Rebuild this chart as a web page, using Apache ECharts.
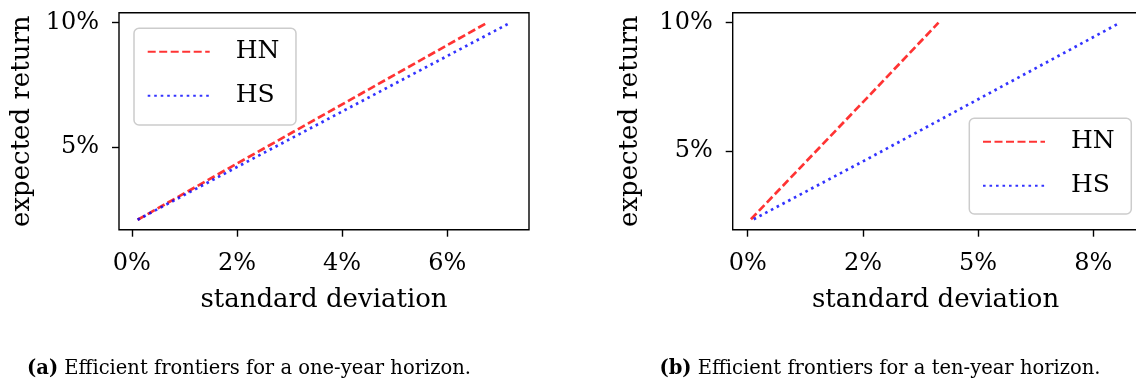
<!DOCTYPE html>
<html>
<head>
<meta charset="utf-8">
<title>Efficient frontiers</title>
<script src="https://cdn.jsdelivr.net/npm/echarts@6/dist/echarts.min.js"></script>
<style>
  html, body { margin: 0; padding: 0; background: #ffffff; }
  #chart { width: 1136px; height: 383px; }
</style>
</head>
<body>
<div id="chart"></div>
<script>
// Efficient frontiers: [standard deviation %, expected return %]
const hnOneYear = [[0.11, 2.07], [2.0, 4.33], [6.76, 10.0]];
const hsOneYear = [[0.11, 2.07], [2.0, 4.19], [7.20, 10.0]];
const hnTenYear = [[0.07, 2.33], [2.65, 7.18], [4.14, 10.0]];
const hsTenYear = [[0.13, 2.33], [2.65, 4.73], [8.08, 10.0]];

// Tick positions and their printed labels
const xTicksOneYear = [0, 2, 4, 6];
const xLabelsOneYear = ['0%', '2%', '4%', '6%'];
const xTicksTenYear = [0, 2.5, 5, 7.5];
const xLabelsTenYear = ['0%', '2%', '5%', '8%'];
const yTicks = [5, 10];
const yLabels = ['5%', '10%'];

const seriesNames = ['HN', 'HS'];
const xAxisName = 'standard deviation';
const yAxisName = 'expected return';
const captions = [
  ['(a)', 'Efficient frontiers for a one-year horizon.'],
  ['(b)', 'Efficient frontiers for a ten-year horizon.']
];

const FONT = 'DejaVu Serif';
const RED = 'rgba(255,0,0,0.8)';
const BLUE = 'rgba(0,0,255,0.8)';
const DASHED = [8, 3.5];
const DOTTED = [2.6, 3.9];

function labelFor(ticks, labels) {
  return function (v) {
    for (let i = 0; i < ticks.length; i++) {
      if (Math.abs(ticks[i] - v) < 1e-6) return labels[i];
    }
    return '';
  };
}

function xAxis(gridIndex, min, max, ticks, labels) {
  return {
    type: 'value', gridIndex, min, max, position: 'bottom',
    name: xAxisName, nameLocation: 'middle', nameGap: 58,
    nameTextStyle: { fontFamily: FONT, fontSize: 26, color: '#000', lineHeight: 26 },
    axisLine: { show: false, onZero: false },
    splitLine: { show: false },
    axisTick: { show: true, inside: false, length: 7, customValues: ticks,
      lineStyle: { color: '#000', width: 1.4 } },
    axisLabel: { show: true, customValues: ticks, margin: 22,
      formatter: labelFor(ticks, labels),
      fontFamily: FONT, fontSize: 24, color: '#000', lineHeight: 24 }
  };
}

function yAxis(gridIndex, min, max, nameGap) {
  return {
    type: 'value', gridIndex, min, max, position: 'left',
    name: yAxisName, nameLocation: 'middle', nameGap,
    nameTextStyle: { fontFamily: FONT, fontSize: 26, color: '#000', lineHeight: 26 },
    axisLine: { show: false, onZero: false },
    splitLine: { show: false },
    axisTick: { show: true, inside: false, length: 7, customValues: yTicks,
      lineStyle: { color: '#000', width: 1.4 } },
    axisLabel: { show: true, customValues: yTicks, margin: 20,
      formatter: labelFor(yTicks, yLabels),
      fontFamily: FONT, fontSize: 24, color: '#000', lineHeight: 24 }
  };
}

function lineSeries(name, data, idx, color, dash) {
  return {
    name, type: 'line', data,
    xAxisIndex: idx, yAxisIndex: idx,
    symbol: 'none', showSymbol: false, smooth: false,
    lineStyle: { color, width: 2.7, type: dash, cap: 'butt' },
    itemStyle: { color },
    emphasis: { disabled: true },
    animation: false
  };
}

function legend(left, top, padding) {
  return {
    data: seriesNames,
    orient: 'vertical',
    left, top,
    padding,
    itemWidth: 62, itemHeight: 14, itemGap: 14,
    selectedMode: false,
    itemStyle: { opacity: 0 },
    backgroundColor: 'rgba(255,255,255,0.8)',
    borderColor: '#cccccc', borderWidth: 1.5, borderRadius: 5,
    textStyle: { fontFamily: FONT, fontSize: 25, color: '#000', lineHeight: 30,
      padding: [0, 0, 0, 21] }
  };
}

function caption(x, y, parts) {
  return {
    type: 'text', x, y,
    style: {
      text: '{b|' + parts[0] + '} ' + parts[1],
      textAlign: 'center', textVerticalAlign: 'middle',
      fontFamily: FONT, fontSize: 19.5, fill: '#000',
      rich: { b: { fontFamily: FONT, fontSize: 19.5, fontWeight: 'bold', fill: '#000' } }
    }
  };
}

const chart = echarts.init(document.getElementById('chart'), null, { renderer: 'canvas' });
chart.setOption({
  animation: false,
  backgroundColor: '#ffffff',
  grid: [
    { left: 119, top: 12.7, width: 410, height: 217, show: true,
      borderColor: '#000', borderWidth: 1.4, backgroundColor: 'transparent',
      containLabel: false, outerBoundsMode: 'none' },
    { left: 732.7, top: 12.7, width: 405.8, height: 217, show: true,
      borderColor: '#000', borderWidth: 1.4, backgroundColor: 'transparent',
      containLabel: false, outerBoundsMode: 'none' }
  ],
  xAxis: [
    xAxis(0, -0.244, 7.554, xTicksOneYear, xLabelsOneYear),
    xAxis(1, -0.326, 8.48, xTicksTenYear, xLabelsTenYear)
  ],
  yAxis: [
    yAxis(0, 1.67, 10.40, 84),
    yAxis(1, 1.92, 10.39, 89)
  ],
  legend: [
    legend(134, 28.3, [8.4, 16.6, 14.3, 12.7]),
    legend(969.3, 118.3, [8.4, 16.6, 13.3, 12.7])
  ],
  series: [
    lineSeries(seriesNames[0], hnOneYear, 0, RED, DASHED),
    lineSeries(seriesNames[1], hsOneYear, 0, BLUE, DOTTED),
    lineSeries(seriesNames[0], hnTenYear, 1, RED, DASHED),
    lineSeries(seriesNames[1], hsTenYear, 1, BLUE, DOTTED)
  ],
  graphic: [
    caption(249, 369, captions[0]),
    caption(880, 369, captions[1])
  ]
});
</script>
</body>
</html>
